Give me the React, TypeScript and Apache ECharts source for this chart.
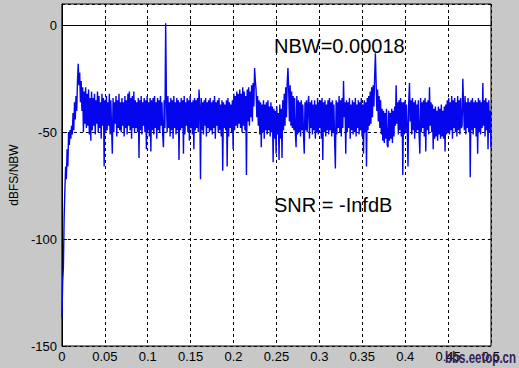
import React, { useEffect, useRef } from "react";
import * as echarts from "echarts";

// Frequency axis (normalised) and level axis ticks
const xTicks = [0, 0.05, 0.1, 0.15, 0.2, 0.25, 0.3, 0.35, 0.4, 0.45, 0.5];
const yTicks = [-150, -100, -50, 0];
const fMax = 0.5;

// Spectrum level in dBFS/NBW, evenly spaced bins from 0 to 0.5
const psdLow = [
  -137, -120, -113, -90, -77, -66, -72, -58, -66, -50, -56, -49, -53, -47, -51, -41, -49, -36, -44, -33,
  -40, -26, -18, -28, -22, -36, -26, -40, -29, -50, -31, -46, -29, -48, -32, -47, -30, -51, -34, -54,
  -31, -49, -34, -47, -32, -51, -35, -46, -31, -50, -33, -48, -36, -53, -32, -47, -34, -66, -35, -50,
  -33, -49, -36, -47, -32, -51, -35, -48, -60, -34, -50, -36, -46, -33, -52, -35, -48, -32, -49, -36,
  -50, -34, -47, -36, -52, -33, -48, -35, -51, -32, -47, -31, -49, -34, -53, -33, -48, -31, -50, -35,
  -48, -36, -50, -34, -62, -35, -49, -33, -51, -36, -47, -34, -50, -35, -58, -33, -49, -36, -52, -34,
  -59, -35, -49, -34, -51, -33, -48, -36, -53, -34, -49, -35, -50, -33, -47, -36, -51, -57, -35, -48,
];
const psdMidLow = [
  1, -34, -50, -33, -48, -36, -52, -34, -49, -35, -53, -33, -48, -36, -51, -34, -49, -35, -63, -36,
  -49, -34, -48, -35, -60, -33, -51, -36, -47, -34, -50, -35, -54, -33, -48, -36, -51, -35, -58, -34,
  -49, -35, -48, -34, -50, -30, -38, -72, -34, -49, -36, -51, -35, -47, -34, -52, -36, -48, -35, -50,
  -34, -49, -36, -51, -35, -48, -33, -53, -36, -47, -35, -50, -34, -49, -37, -52, -35, -68, -36, -48,
  -37, -49, -35, -66, -34, -52, -36, -48, -37, -50, -35, -58, -32, -49, -33, -47, -31, -48, -32, -46,
  -30, -48, -32, -50, -29, -47, -31, -49, -33, -70, -30, -45, -29, -47, -31, -43, -28, -45, -27, -38,
  -20, -26, -30, -43, -33, -47, -35, -51, -36, -57, -37, -50, -35, -53, -37, -49, -36, -51, -35, -49,
];
const psdMidHigh = [
  -38, -52, -36, -50, -38, -64, -39, -53, -40, -60, -38, -51, -41, -63, -37, -53, -39, -62, -35, -49,
  -32, -47, -29, -43, -27, -20, -30, -45, -28, -47, -31, -48, -33, -49, -34, -50, -57, -33, -51, -35,
  -50, -36, -52, -35, -49, -37, -51, -60, -36, -49, -35, -50, -37, -33, -53, -36, -48, -35, -51, -37,
  -49, -35, -53, -37, -50, -34, -51, -36, -48, -35, -53, -34, -63, -36, -50, -35, -52, -37, -49, -35,
  -51, -34, -49, -36, -52, -35, -50, -37, -54, -67, -35, -51, -36, -48, -33, -50, -35, -52, -34, -48,
  -26, -43, -36, -60, -35, -50, -36, -48, -34, -53, -37, -49, -35, -51, -36, -50, -34, -52, -37, -48,
  -35, -51, -36, -49, -34, -52, -37, -60, -35, -50, -36, -66, -34, -49, -33, -47, -31, -46, -29, -43,
];
const psdHigh = [
  -28, -38, -24, -13, -27, -40, -30, -45, -33, -48, -35, -51, -39, -54, -40, -55, -41, -53, -39, -56,
  -57, -40, -54, -41, -53, -39, -55, -40, -52, -38, -47, -28, -46, -36, -51, -35, -49, -34, -52, -36,
  -70, -36, -51, -35, -50, -37, -48, -66, -36, -27, -45, -35, -51, -34, -49, -36, -53, -35, -50, -37,
  -49, -35, -51, -60, -34, -50, -36, -48, -35, -52, -34, -59, -36, -49, -35, -51, -29, -47, -36, -50,
  -37, -58, -39, -53, -38, -52, -40, -54, -38, -51, -39, -53, -37, -52, -40, -53, -38, -59, -37, -51,
  -35, -50, -34, -51, -36, -49, -33, -53, -35, -48, -34, -50, -36, -52, -33, -49, -35, -51, -34, -48,
  -47, -25, -38, -49, -33, -51, -36, -48, -34, -50, -36, -71, -35, -49, -34, -51, -36, -48, -35, -52,
  -36, -60, -34, -50, -35, -51, -36, -48, -27, -47, -35, -52, -34, -49, -36, -58, -35, -50, -40, -57,
];
const psd = [...psdLow, ...psdMidLow, ...psdMidHigh, ...psdHigh];

const noteNbw = "NBW=0.00018";
const noteSnr = "SNR = -InfdB";
const watermark = "bbs.eetop.cn";

export default function App() {
  const ref = useRef<HTMLDivElement>(null);
  useEffect(() => {
    if (!ref.current) return;
    const chart = echarts.init(ref.current, null, { renderer: "svg" });
    const step = fMax / (psd.length - 1);
    const data = psd.map((v, i) => [i * step, v]);
    const font = "Liberation Sans, Arial, Helvetica, sans-serif";
    chart.setOption({
      animation: false,
      backgroundColor: "#c8c8c8",
      grid: {
        left: 57,
        top: 4,
        right: 28,
        bottom: 22,
        show: true,
        backgroundColor: "#ffffff",
        borderColor: "#000000",
        borderWidth: 1,
      },
      xAxis: {
        type: "value",
        min: xTicks[0],
        max: xTicks[xTicks.length - 1],
        interval: 0.05,
        axisLine: { show: true, lineStyle: { color: "#000", width: 1 } },
        axisTick: { show: true, inside: true, length: 5, lineStyle: { color: "#000" } },
        axisLabel: {
          color: "#000",
          fontSize: 13,
          fontFamily: font,
          margin: 4,
          formatter: (v: number) => String(Math.round(v * 100) / 100),
        },
        splitLine: { show: true, lineStyle: { color: "#000", type: [3, 3], width: 1 } },
      },
      yAxis: {
        type: "value",
        min: yTicks[0],
        max: 10,
        interval: 50,
        name: "dBFS/NBW",
        nameLocation: "middle",
        nameGap: 37,
        nameTextStyle: { color: "#000", fontSize: 12, fontFamily: font },
        axisLine: { show: true, lineStyle: { color: "#000", width: 1 } },
        axisTick: { show: true, inside: true, length: 5, lineStyle: { color: "#000" } },
        axisLabel: {
          color: "#000",
          fontSize: 13,
          fontFamily: font,
          margin: 5,
          showMaxLabel: false,
        },
        splitLine: { show: true, lineStyle: { color: "#000", type: [3, 3], width: 1 } },
      },
      series: [
        {
          type: "line",
          data,
          showSymbol: false,
          symbol: "none",
          lineStyle: { color: "#0505ee", width: 1.4 },
          itemStyle: { color: "#0505ee" },
          clip: true,
        },
      ],
      graphic: [
        {
          type: "text",
          left: 274,
          top: 36,
          z: 100,
          style: { text: noteNbw, font: `20px ${font}`, fill: "#000" },
        },
        {
          type: "text",
          left: 274,
          top: 195,
          z: 100,
          style: { text: noteSnr, font: `20px ${font}`, fill: "#000" },
        },
        {
          type: "text",
          x: 445,
          y: 357,
          scaleX: 0.72,
          z: 100,
          style: {
            text: watermark,
            font: `bold 16px ${font}`,
            fill: "#33205a",
            verticalAlign: "middle",
            align: "left",
          },
        },
      ],
    });
    return () => chart.dispose();
  }, []);
  return (
    <div
      ref={ref}
      style={{ position: "fixed", left: 0, top: 0, width: 519, height: 368 }}
    />
  );
}
